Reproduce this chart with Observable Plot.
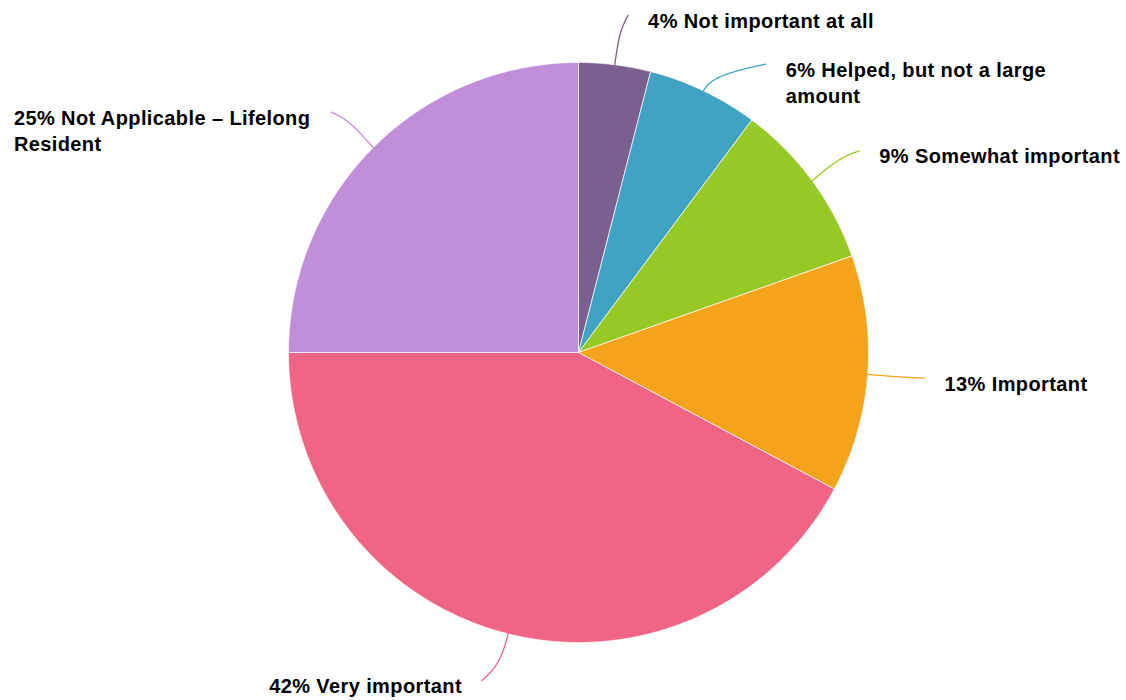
<!DOCTYPE html>
<html><head><meta charset="utf-8">
<script src="https://cdn.jsdelivr.net/npm/d3@7"></script>
<script src="https://cdn.jsdelivr.net/npm/@observablehq/plot@0.6"></script>
<style>body{margin:0;background:#fff}#chart svg{display:block}#chart text{letter-spacing:0.4px}</style>
</head><body><div id="chart"></div>
<script>
// ---- data ----
const categories = [
  "Not important at all",
  "Helped, but not a large\namount",
  "Somewhat important",
  "Important",
  "Very important",
  "Not Applicable – Lifelong\nResident"
];
const shares = [4.0, 6.2, 9.4, 13.2, 42.2, 25.0];
const percentLabels = ["4%", "6%", "9%", "13%", "42%", "25%"];
const colors = ["#7b5f8e", "#40a3c4", "#97c926", "#f5a31a", "#f06486", "#bf8fda"];

// ---- layout ----
const W = 1126, H = 700, CX = 578, CY = 352, R = 290;
const LD = 50 / R;        // label distance (radius units)
const TIP = 7 / R;        // horizontal extension of connector end
const GAP = 49 / R;       // min vertical spacing between labels
const TXT = 20;           // px gap connector end -> text
const FONT_SIZE = 20, LS = 0.4;
const FONT = "Liberation Sans, Arial, Helvetica, sans-serif";
const YMAX = (H - 20 - CY) / R, YMIN = (8 - CY) / R;

const total = d3.sum(shares);
let acc = 0;
const slices = categories.map((c, i) => {
  const a0 = acc / total * 2 * Math.PI; acc += shares[i];
  const a1 = acc / total * 2 * Math.PI;
  return {c, i, a0, a1, mid: (a0 + a1) / 2, label: percentLabels[i] + " " + c};
});

// slice polygons
const polys = [];
for (const s of slices) {
  polys.push({c: s.c, u: 0, v: 0});
  const n = Math.max(2, Math.ceil((s.a1 - s.a0) / 0.004));
  for (let k = 0; k <= n; k++) {
    const a = s.a0 + (s.a1 - s.a0) * k / n;
    polys.push({c: s.c, u: Math.sin(a), v: -Math.cos(a)});
  }
  polys.push({c: s.c, u: 0, v: 0});
}

// label placement
const RL = 1 + LD;
for (const s of slices) {
  s.right = Math.sin(s.mid) >= 0;
  s.ly = Math.max(YMIN, Math.min(YMAX, -Math.cos(s.mid) * RL));
}
for (const side of [true, false]) {
  const group = slices.filter(s => s.right === side).sort((a, b) => a.ly - b.ly);
  for (let k = 1; k < group.length; k++) {
    if (group[k].ly < group[k - 1].ly + GAP) group[k].ly = group[k - 1].ly + GAP;
  }
}
for (const s of slices) {
  const yy = Math.max(-RL, Math.min(RL, s.ly));
  const sg = s.right ? 1 : -1;
  s.lx = sg * (Math.sqrt(RL * RL - yy * yy) + TIP);
}

// text measuring
const ctx = document.createElement("canvas").getContext("2d");
ctx.font = `bold ${FONT_SIZE}px ${FONT}`;
const textW = t => d3.max(t.split("\n"), l => ctx.measureText(l).width + LS * l.length);

// connectors: cubic from slice edge (radial departure) to label end
const conns = [];
for (const s of slices) {
  const sg = s.right ? 1 : -1;
  const ru = Math.sin(s.mid), rv = -Math.cos(s.mid);
  const B = [ru, rv], E = [s.lx, s.ly];
  const dx = E[0] - B[0], dy = E[1] - B[1];
  const k1 = 0.6 * Math.abs(dy);
  const C1 = [B[0] + ru * k1, B[1] + rv * k1];
  const C2 = [E[0] - sg * 0.5 * Math.abs(dx), E[1] - 0.25 * dy];
  const n = 40;
  for (let k = 0; k <= n; k++) {
    const t = k / n, m = 1 - t;
    conns.push({
      c: s.c,
      u: m*m*m*B[0] + 3*m*m*t*C1[0] + 3*m*t*t*C2[0] + t*t*t*E[0],
      v: m*m*m*B[1] + 3*m*m*t*C1[1] + 3*m*t*t*C2[1] + t*t*t*E[1]
    });
  }
  s.tx = s.right ? s.lx + TXT / R : s.lx - (TXT + textW(s.label)) / R;
}

const chart = Plot.plot({
  width: W, height: H, margin: 0,
  x: {domain: [-CX / R, (W - CX) / R], range: [0, W], axis: null},
  y: {domain: [-CY / R, (H - CY) / R], range: [0, H], axis: null},
  color: {domain: categories, range: colors},
  marks: [
    Plot.line(polys, {x: "u", y: "v", z: "c", fill: "c", stroke: "white", strokeWidth: 0.7}),
    Plot.line(conns, {x: "u", y: "v", z: "c", stroke: "c", strokeWidth: 1.3}),
    Plot.text(slices, {x: "tx", y: "ly", text: "label", textAnchor: "start", lineAnchor: "top",
      dy: -6, fontSize: FONT_SIZE, fontWeight: "bold", fontFamily: FONT, lineHeight: 1.3, fill: "#000"})
  ]
});
document.getElementById("chart").appendChild(chart);
</script>
</body></html>
